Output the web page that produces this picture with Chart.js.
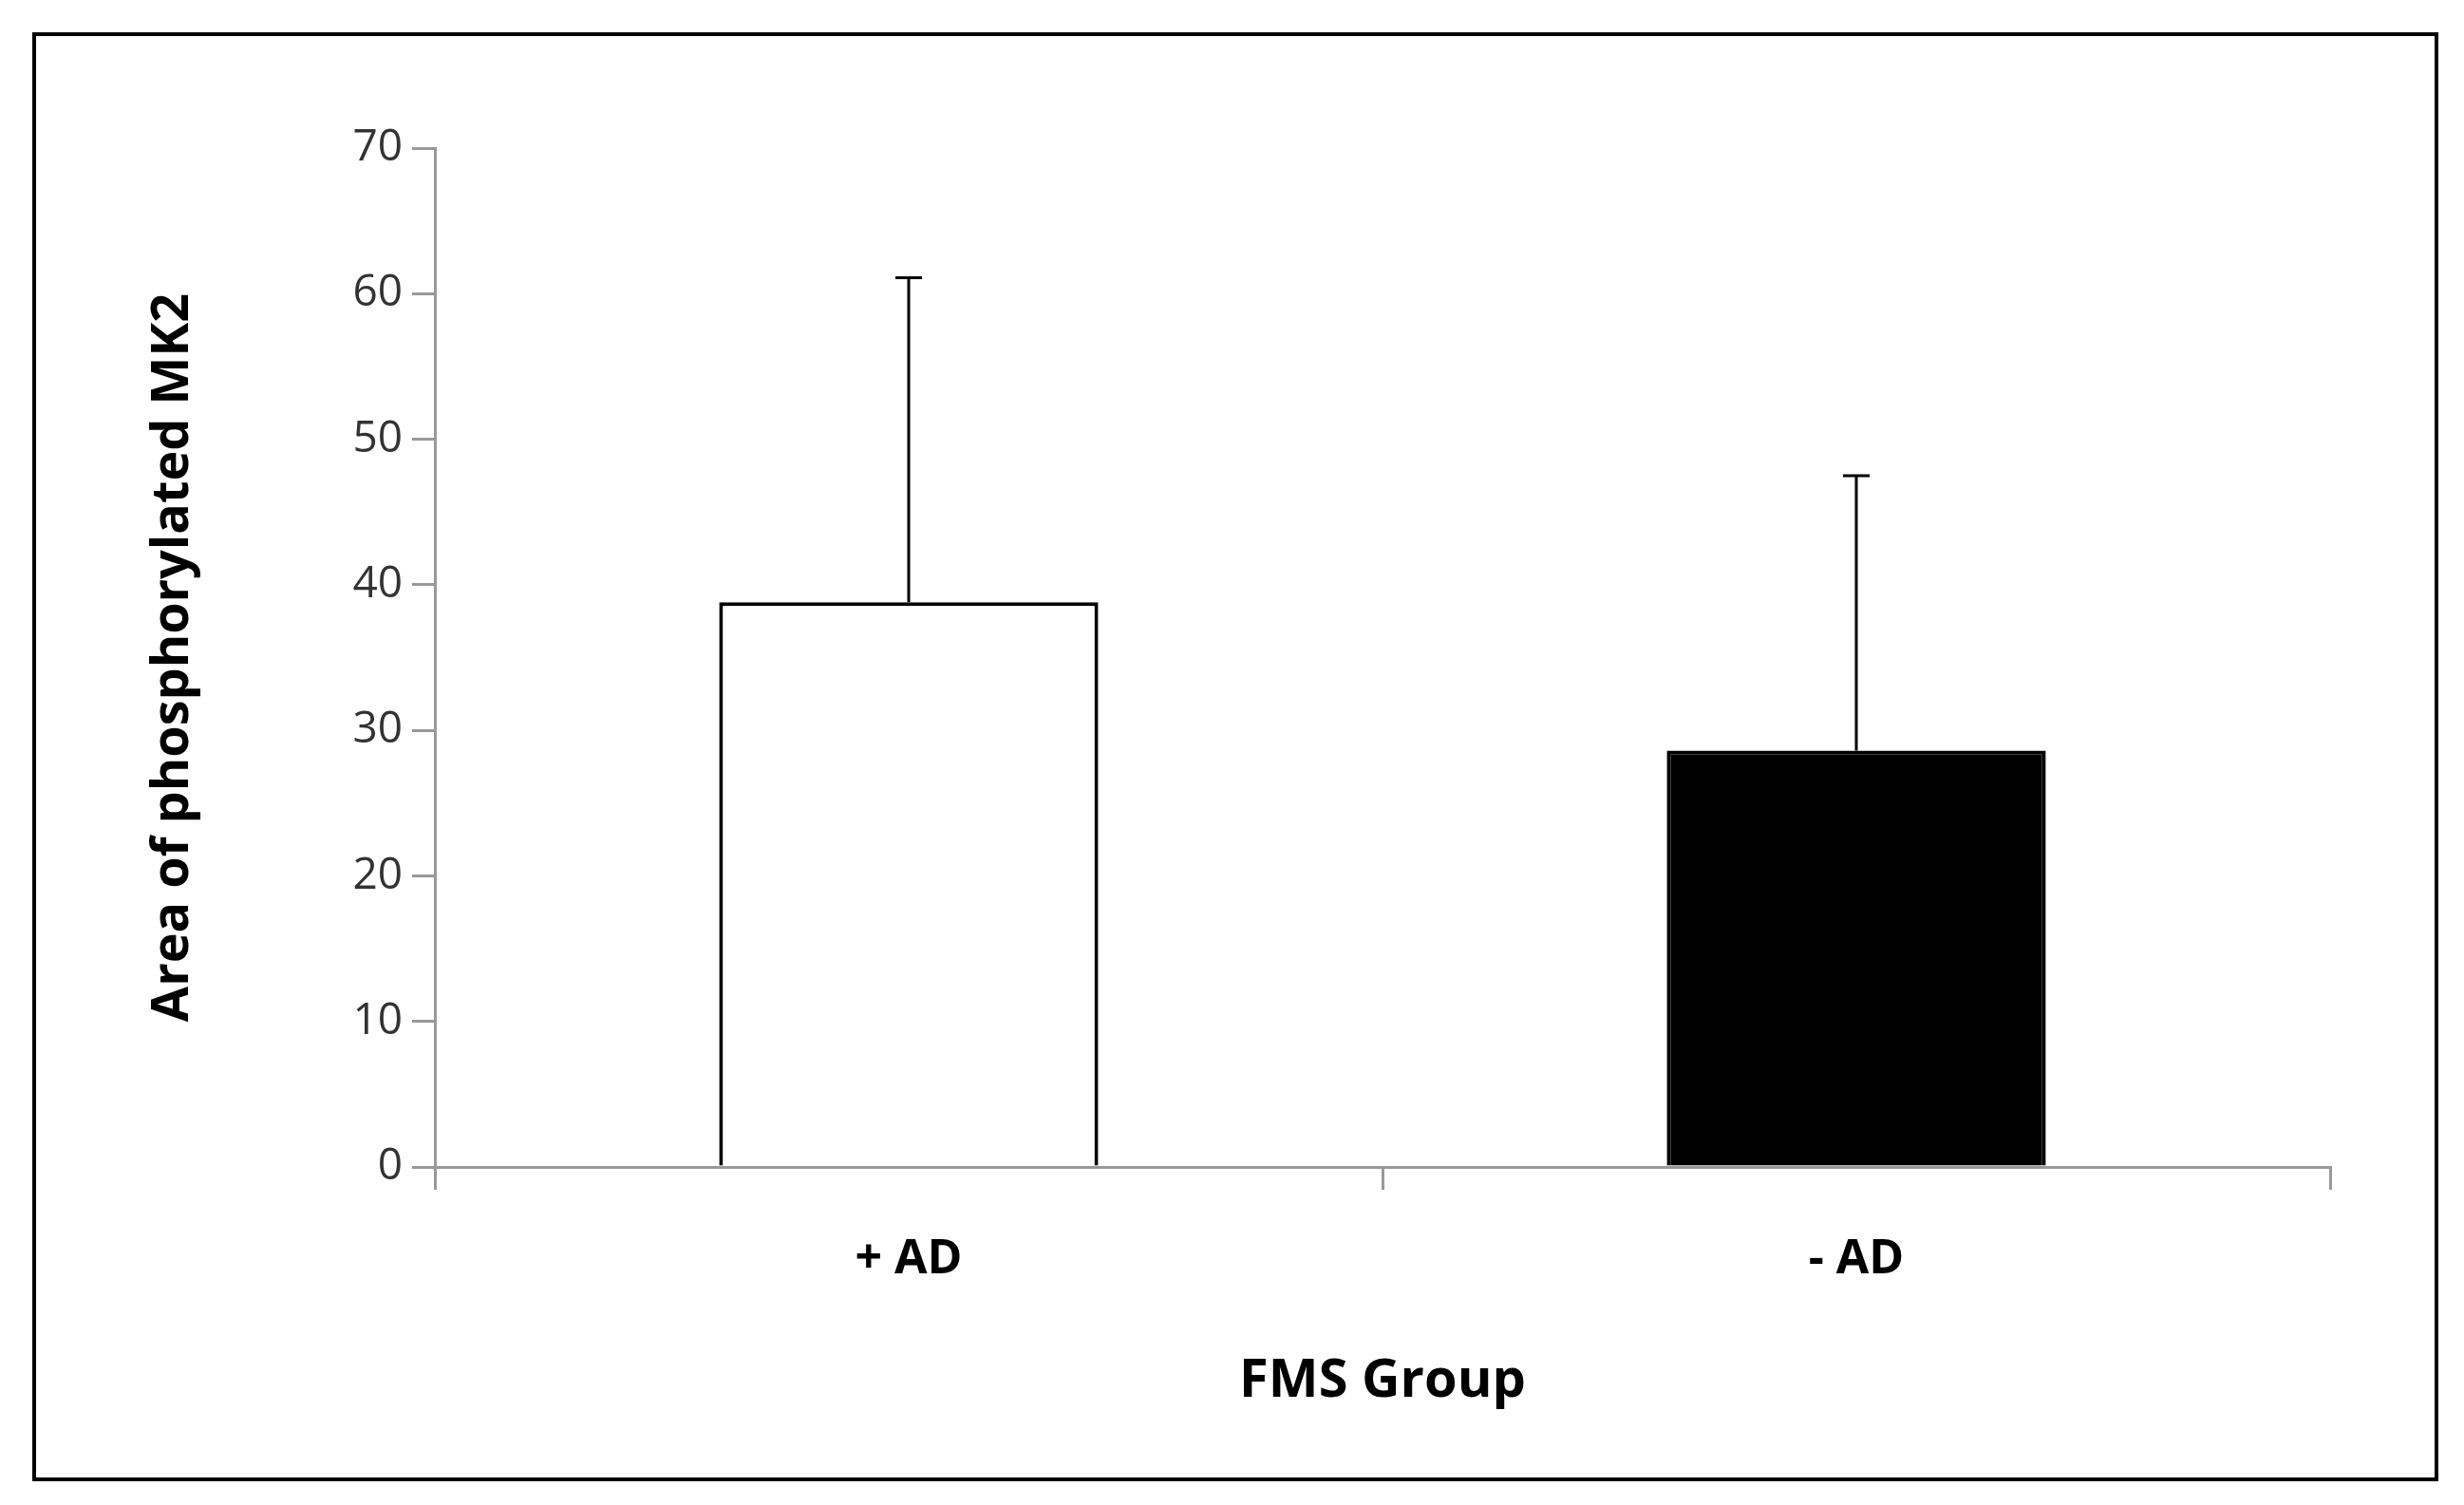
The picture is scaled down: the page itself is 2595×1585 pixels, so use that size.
<!DOCTYPE html>
<html><head><meta charset="utf-8">
<script src="https://cdn.jsdelivr.net/npm/chart.js@4/dist/chart.umd.min.js"></script>
<style>html,body{margin:0;padding:0;background:#fff;}#wrap{width:2595px;height:1585px;}</style>
</head><body><div id="wrap"><canvas id="c" width="2595" height="1585"></canvas></div>
<script>
const categories = ['+ AD', '- AD'];
const values = [38.8, 28.6];
const errors = [22.3, 18.9];
const yTicks = [0, 10, 20, 30, 40, 50, 60, 70];

const errPlugin = {
  id: 'err',
  afterDatasetsDraw(chart) {
    const ctx = chart.ctx, x = chart.scales.x, y = chart.scales.y;
    ctx.save(); ctx.strokeStyle = '#000'; ctx.lineWidth = 3;
    values.forEach((v, i) => {
      const cx = x.getPixelForValue(i);
      const y0 = y.getPixelForValue(v), y1 = y.getPixelForValue(v + errors[i]);
      ctx.beginPath(); ctx.moveTo(cx, y0); ctx.lineTo(cx, y1);
      ctx.moveTo(cx - 14, y1); ctx.lineTo(cx + 14, y1); ctx.stroke();
    });
    ctx.restore();
  },
  afterDraw(chart) {
    const ctx = chart.ctx; ctx.save(); ctx.strokeStyle = '#000'; ctx.lineWidth = 4;
    ctx.strokeRect(36, 36, 2530, 1522); ctx.restore();
  }
};

new Chart(document.getElementById('c'), {
  type: 'bar',
  data: { labels: categories, datasets: [{ data: values, backgroundColor: ['#fff', '#000'], borderColor: '#000', borderWidth: 4, barPercentage: 0.4, categoryPercentage: 1 }] },
  options: {
    responsive: false, animation: false, devicePixelRatio: 1,
    layout: { padding: { left: 150, right: 141, top: 156, bottom: 56 } },
    plugins: { legend: { display: false }, tooltip: { enabled: false } },
    scales: {
      y: {
        min: 0, max: 70, afterBuildTicks(s) { s.ticks = yTicks.map(v => ({ value: v })); },
        afterFit(s) { s.width = 308; },
        border: { color: '#999', width: 3 },
        grid: { drawOnChartArea: false, tickLength: 24, color: '#999', lineWidth: 3 },
        ticks: { font: { family: 'Open Sans', size: 46 }, color: '#333', padding: 10 },
        title: { display: true, text: 'Area of phosphorylated MK2', font: { family: 'Open Sans', size: 54, weight: 'bold' }, color: '#000', padding: 0 }
      },
      x: {
        afterFit(s) { s.height = 300; },
        border: { color: '#999', width: 3 },
        grid: { offset: true, drawOnChartArea: false, tickLength: 24, color: '#999', lineWidth: 3 },
        ticks: { font: { family: 'Open Sans', size: 50, weight: 'bold' }, color: '#000', padding: 44 },
        title: { display: true, text: 'FMS Group', font: { family: 'Open Sans', size: 56, weight: 'bold' }, color: '#000', padding: { top: 0, bottom: 40 } }
      }
    }
  },
  plugins: [errPlugin]
});
</script></body></html>
